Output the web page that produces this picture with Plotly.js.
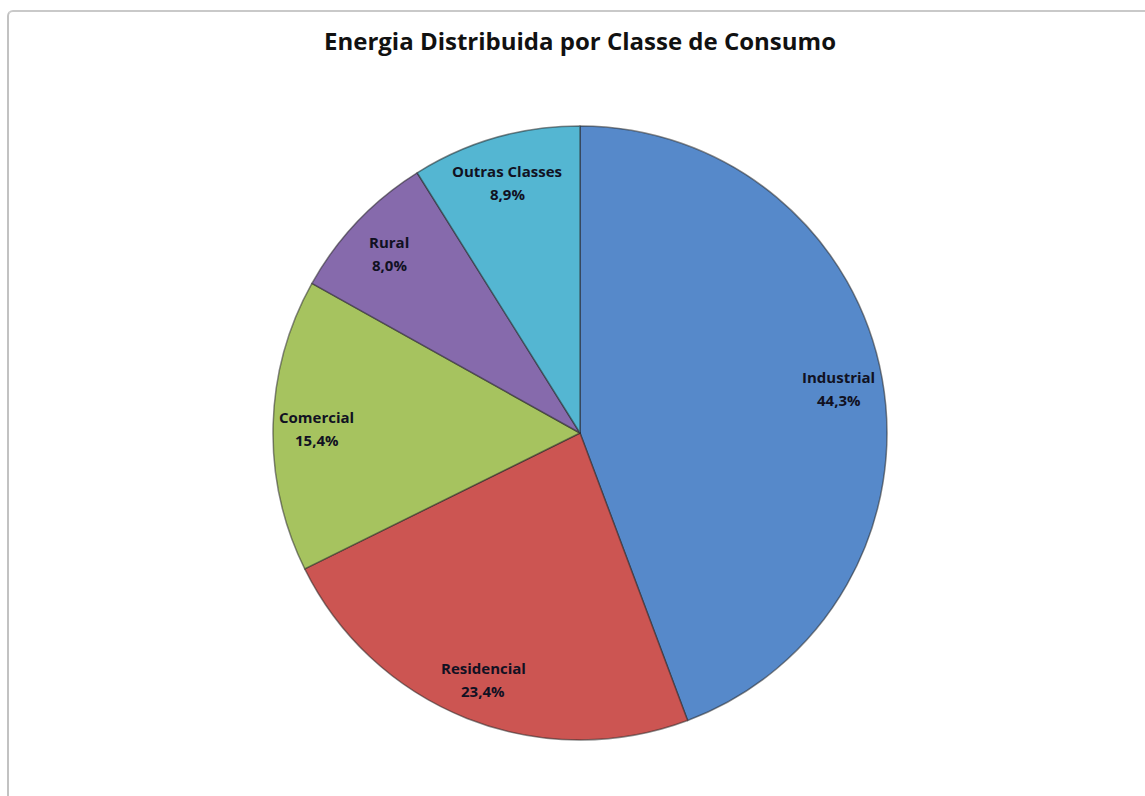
<!DOCTYPE html>
<html>
<head>
<meta charset="utf-8">
<script src="https://cdn.plot.ly/plotly-3.0.1.min.js"></script>
<style>
  html, body { margin: 0; padding: 0; background: #ffffff; }
  #frame { position: absolute; left: 7px; top: 10px; width: 1145px; height: 800px;
           border-top: 2px solid #c9c9c9; border-left: 2px solid #c2c2c2; border-top-left-radius: 6px; }
  #chart { position: absolute; left: 0; top: 0; width: 1145px; height: 796px; }
</style>
</head>
<body>
<div id="frame"></div>
<div id="chart"></div>
<script>
const categories = ["Industrial", "Residencial", "Comercial", "Rural", "Outras Classes"];
const shares = [44.3, 23.4, 15.4, 8.0, 8.9];
const sliceColors = ["#5689CA", "#CC5552", "#A6C35F", "#866AAC", "#54B6D2"];
const chartTitle = "Energia Distribuida por Classe de Consumo";

const W = 1145, H = 796;
const cx = 580, cy = 433, R = 307;
const labelRadius = 0.857;
const domain = {
  x: [(cx - R) / W, (cx + R) / W],
  y: [(H - cy - R) / H, (H - cy + R) / H]
};

const slices = {
  type: "pie",
  labels: categories,
  values: shares,
  sort: false,
  direction: "clockwise",
  rotation: 0,
  marker: { colors: sliceColors, line: { color: "rgba(40,40,40,0.55)", width: 1.5 } },
  textinfo: "none",
  hoverinfo: "label+percent",
  showlegend: false,
  domain: domain
};

// Data labels placed at the middle angle of each slice (derived from the shares)
const total = shares.reduce((a, b) => a + b, 0);
const annotations = [];
let cum = 0;
const fmt = v => v.toFixed(1).replace(".", ",") + "%";
shares.forEach((v, i) => {
  const mid = (cum + v / 2) / total * 2 * Math.PI;
  cum += v;
  const px = cx + labelRadius * R * Math.sin(mid);
  const py = cy - labelRadius * R * Math.cos(mid) + 2;
  const common = {
    xref: "paper", yref: "paper",
    x: px / W, y: 1 - py / H,
    xanchor: "center", yanchor: "middle",
    showarrow: false,
    font: { family: "Open Sans, sans-serif", size: 15, color: "#111122" }
  };
  annotations.push(Object.assign({}, common, { text: "<b>" + categories[i] + "</b>", yshift: 11.5 }));
  annotations.push(Object.assign({}, common, { text: "<b>" + fmt(v) + "</b>", yshift: -11.5 }));
});

const layout = {
  width: W, height: H,
  margin: { l: 0, r: 0, t: 0, b: 0 },
  paper_bgcolor: "rgba(0,0,0,0)",
  plot_bgcolor: "rgba(0,0,0,0)",
  separators: ", ",
  title: {
    text: "<b>" + chartTitle + "</b>",
    font: { family: "Open Sans, sans-serif", size: 24, color: "#111111" },
    x: 580 / W, xanchor: "center",
    y: 1 - 42 / H, yanchor: "middle"
  },
  annotations: annotations,
  showlegend: false
};

Plotly.newPlot("chart", [slices], layout, { displayModeBar: false, staticPlot: true });
</script>
</body>
</html>
